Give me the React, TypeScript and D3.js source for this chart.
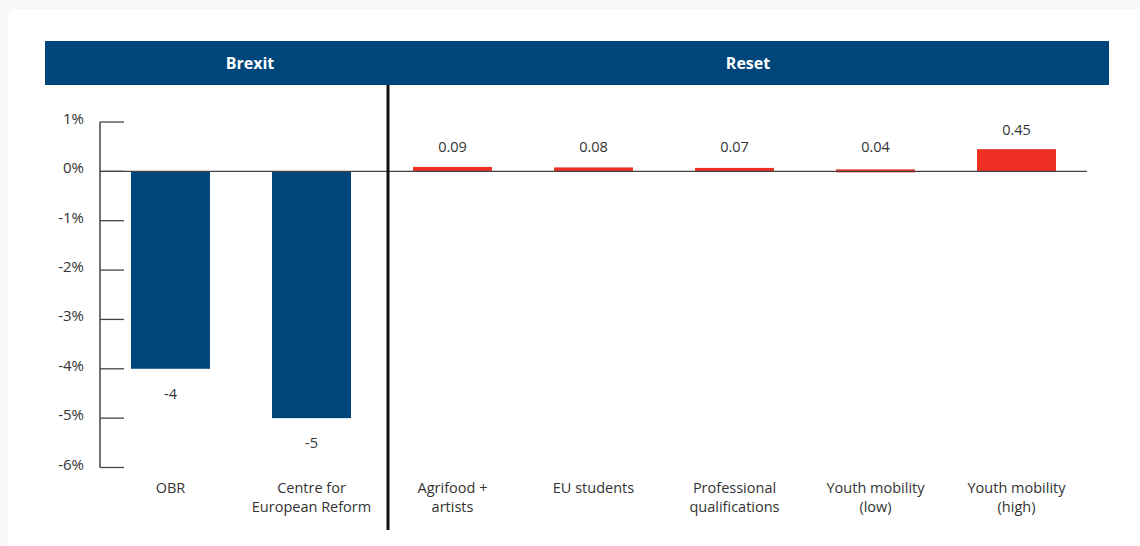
import React from "react";
import * as d3 from "d3";

const categories = [
  ["OBR"],
  ["Centre for", "European Reform"],
  ["Agrifood +", "artists"],
  ["EU students"],
  ["Professional", "qualifications"],
  ["Youth mobility", "(low)"],
  ["Youth mobility", "(high)"],
];
const values = [-4, -5, 0.09, 0.08, 0.07, 0.04, 0.45];
const groups = ["Brexit", "Brexit", "Reset", "Reset", "Reset", "Reset", "Reset"];
const yTicks = [1, 0, -1, -2, -3, -4, -5, -6];
const valueLabels = ["-4", "-5", "0.09", "0.08", "0.07", "0.04", "0.45"];

const W = 1140;
const H = 546;
const BLUE = "#00467b";
const RED = "#ee3124";
const FONT = "'Open Sans', 'Noto Sans', sans-serif";

export default function App() {
  const x = d3
    .scaleBand<number>()
    .domain(d3.range(values.length))
    .range([100, 1087])
    .paddingInner(0.44)
    .paddingOuter(0.22);
  const y = d3.scaleLinear().domain([-6, 1]).range([467.5, 122]);
  const y0 = y(0);
  const dividerX = 388;

  return (
    <div style={{ position: "absolute", left: 0, top: 0, width: W, height: H, background: "#f7f7f7" }}>
      <svg width={W} height={H} style={{ display: "block", fontFamily: FONT }}>
        <rect x={8} y={9} width={W} height={H} rx={8} fill="#ffffff" />
        {/* header */}
        <rect x={45} y={41} width={1064} height={44} fill={BLUE} />
        <text x={250} y={69} textAnchor="middle" fill="#fff" fontSize={16} fontWeight={700}>
          Brexit
        </text>
        <text x={748} y={69} textAnchor="middle" fill="#fff" fontSize={16} fontWeight={700}>
          Reset
        </text>
        {/* y axis */}
        <line x1={100} x2={100} y1={y(1)} y2={y(-6)} stroke="#444" strokeWidth={1.5} />
        {yTicks.map((t) => (
          <g key={t}>
            <line x1={100} x2={124} y1={y(t)} y2={y(t)} stroke="#444" strokeWidth={1.3} />
            <text x={84} y={y(t) + 2} textAnchor="end" fontSize={15} fill="#333">
              {`${t}%`}
            </text>
          </g>
        ))}
        {/* bars */}
        {values.map((v, i) => (
          <rect
            key={i}
            x={x(i)}
            width={x.bandwidth()}
            y={Math.min(y(v), y0)}
            height={Math.max(Math.abs(y(v) - y0), 3)}
            fill={groups[i] === "Brexit" ? BLUE : RED}
          />
        ))}
        {/* zero line */}
        <line x1={100} x2={1087} y1={y0} y2={y0} stroke="#444" strokeWidth={1.3} />
        {/* value labels */}
        {values.map((v, i) => (
          <text
            key={i}
            x={x(i)! + x.bandwidth() / 2}
            y={v < 0 ? y(v) + 30 : Math.min(y(v), y0 - 5) - 14}
            textAnchor="middle"
            fontSize={14.5}
            fill="#333"
          >
            {valueLabels[i]}
          </text>
        ))}
        {/* category labels */}
        {categories.map((lines, i) => (
          <text key={i} x={x(i)! + x.bandwidth() / 2} y={493} textAnchor="middle" fontSize={14.5} fill="#333">
            {lines.map((l, j) => (
              <tspan key={j} x={x(i)! + x.bandwidth() / 2} dy={j === 0 ? 0 : 19}>
                {l}
              </tspan>
            ))}
          </text>
        ))}
        {/* divider */}
        <line x1={dividerX} x2={dividerX} y1={85} y2={530} stroke="#111" strokeWidth={3} />
      </svg>
    </div>
  );
}
